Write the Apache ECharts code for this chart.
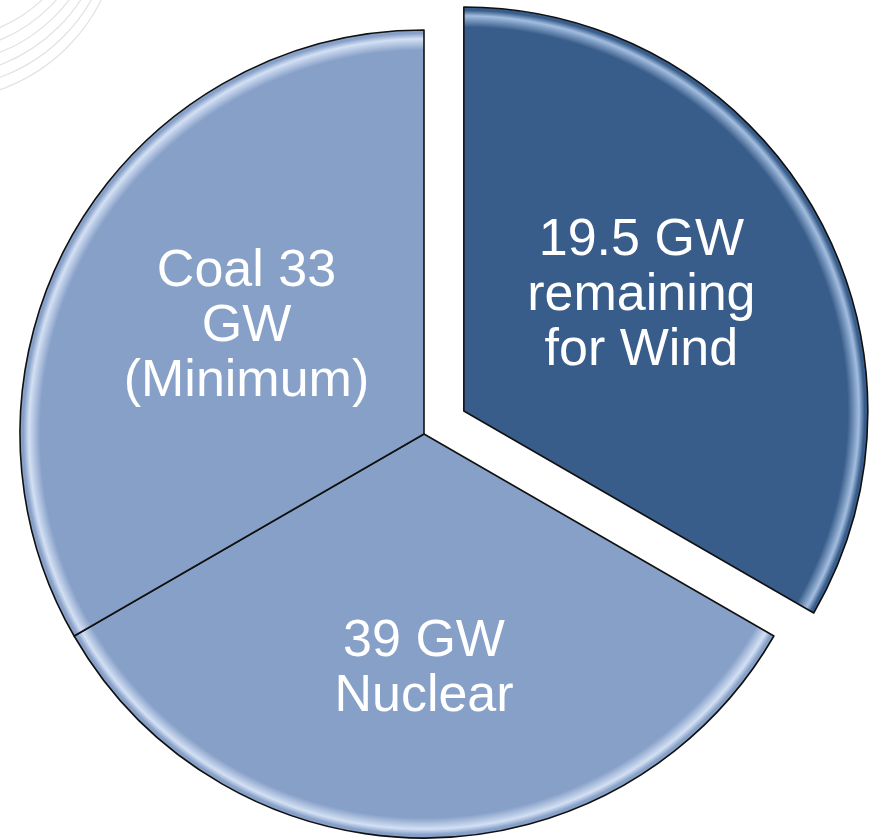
<!DOCTYPE html>
<html>
<head>
<meta charset="utf-8">
<script src="https://cdn.jsdelivr.net/npm/echarts@6/dist/echarts.min.js"></script>
<style>
  html, body { margin: 0; padding: 0; background: #fff; }
  #main { width: 877px; height: 840px; }
</style>
</head>
<body>
<div id="main"></div>
<script>
// slice labels and the share of the pie each slice takes in the picture (equal thirds)
var sliceNames = ['19.5 GW\nremaining\nfor Wind', '39 GW\nNuclear', 'Coal 33\nGW\n(Minimum)'];
var sliceShares = [33.3, 33.3, 33.3];
var sliceColors = ['#385d8a', '#87a0c8', '#87a0c8'];
var sliceRims = ['#a3bde0', '#d3e0f4', '#d3e0f4'];

var cx = 424, cy = 434, R = 404;

// 斜面效果：用全局径向渐变在边缘做一圈亮边
function rimFill(base, rim) {
    return {
        type: 'radial', x: cx, y: cy, r: R, global: true,
        colorStops: [
            { offset: 0, color: base },
            { offset: 0.95, color: base },
            { offset: 0.978, color: rim },
            { offset: 0.992, color: base },
            { offset: 1, color: base }
        ]
    };
}

// 标签上下微调：用一行空白 rich 文本撑开（[前置高度, 后置高度]）
var labelSpacers = [[0, 26], [60, 0], [0, 10]];

function labelText(i) {
    var lines = sliceNames[i].split('\n').map(function (s) { return '{t|' + s + '}'; });
    if (labelSpacers[i][0]) lines.unshift('{top| }');
    if (labelSpacers[i][1]) lines.push('{bot| }');
    return lines.join('\n');
}

var myChart = echarts.init(document.getElementById('main'));

// 左上角装饰弧线
var deco = [];
for (var k = 0; k < 6; k++) {
    deco.push({
        type: 'circle',
        shape: { cx: -60, cy: -110 + k * 6, r: 150 + k * 6 },
        style: { fill: 'none', stroke: '#e2e2e2', lineWidth: 1.2 },
        silent: true
    });
}

var option = {
    backgroundColor: '#ffffff',
    animation: false,
    graphic: deco,
    series: [{
        type: 'pie',
        center: [cx, cy],
        radius: [0, R],
        startAngle: 90,
        clockwise: true,
        selectedMode: 'single',
        selectedOffset: 46,
        avoidLabelOverlap: false,
        emphasis: { disabled: true },
        itemStyle: { borderColor: '#111', borderWidth: 1.6 },
        label: {
            show: true,
            position: 'inside',
            color: '#ffffff',
            fontFamily: '"Liberation Sans", Arial, sans-serif',
            align: 'center'
        },
        labelLine: { show: false },
        data: sliceNames.map(function (n, i) {
            return {
                name: n,
                value: sliceShares[i],
                selected: i === 0,
                itemStyle: { color: rimFill(sliceColors[i], sliceRims[i]) },
                label: {
                    formatter: labelText(i),
                    rich: {
                        t: { fontSize: 52, lineHeight: 55, color: '#fff', fontFamily: '"Liberation Sans", Arial, sans-serif' },
                        top: { fontSize: 1, lineHeight: labelSpacers[i][0] || 1 },
                        bot: { fontSize: 1, lineHeight: labelSpacers[i][1] || 1 }
                    }
                }
            };
        })
    }]
};
myChart.setOption(option);
</script>
</body>
</html>
